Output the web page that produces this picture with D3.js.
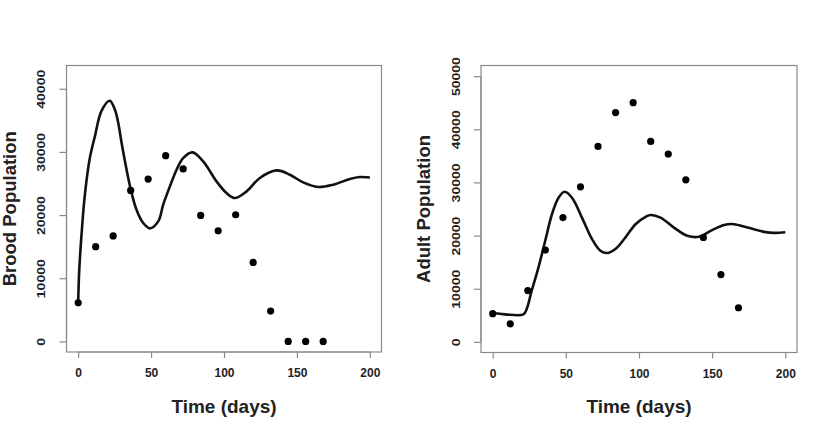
<!DOCTYPE html>
<html><head><meta charset="utf-8">
<script src="https://cdn.jsdelivr.net/npm/d3@7"></script>
<style>body{margin:0;background:#fff}svg{display:block}text{font-family:"Liberation Sans",Arial,sans-serif}</style>
</head><body><svg id="c" width="830" height="435"></svg>
<script>
// Observed data (days)
const obsDays = [0,12,24,36,48,60,72,84,96,108,120,132,144,156,168];
const broodObs = [6100,15000,16700,23900,25700,29400,27300,19950,17500,20050,12500,4800,0,0,0];
const adultObs = [5300,3400,9660,17270,23380,29180,36780,43140,45010,37720,35350,30480,19640,12660,6420];
// Model curves
const broodModelT = [0,0.7,2.3,4.6,8,11.5,16,21.7,25.2,27.5,29.8,33.2,36.1,40,44.6,49.2,54.9,58.3,62.9,67.5,72,78.4,85.7,94.9,101.7,107.5,115.5,124.6,136,145.2,154.3,164.6,174.9,186.3,193.2,200];
const broodModelV = [6080,11080,16890,23220,29030,32500,36500,38100,36680,34570,31400,27180,24010,20850,18740,17900,19000,21640,24540,27180,29030,29920,28500,25330,23490,22700,23750,25870,27070,26390,25170,24440,24810,25710,26020,25960];
const adultModelT = [0,8.4,21,23.3,26.7,31.3,35.9,40.5,45,49.1,54.2,61,67.9,73.6,78.2,83.9,90.7,97.6,104.5,107.9,114.7,123.9,133,141,149,158.2,165,174.2,185.6,192.4,200];
const adultModelV = [5420,5180,5180,6240,9670,14030,19020,24010,27120,28240,27120,23380,19340,17150,16720,17470,19640,22140,23510,23880,23380,21500,19950,19770,20890,22010,22140,21500,20700,20510,20640];
const xTicks = [0,50,100,150,200];
const broodTicks = [0,10000,20000,30000,40000];
const adultTicks = [0,10000,20000,30000,40000,50000];

const svg = d3.select("#c");

function panel(o){
  const g = svg.append("g");
  const x = d3.scaleLinear().domain([-8,208]).range([o.left,o.right]);
  const y = d3.scaleLinear().domain(o.ydom).range([o.bottom,o.top]);
  const grey = "#8a8a8a";
  g.append("rect").attr("x",o.left).attr("y",o.top).attr("width",o.right-o.left).attr("height",o.bottom-o.top)
    .attr("fill","none").attr("stroke",grey).attr("stroke-width",1.2);
  const xa = g.append("g").attr("transform",`translate(0,${o.bottom})`)
    .call(d3.axisBottom(x).tickValues(xTicks).tickSize(6).tickPadding(14).tickFormat(d3.format("d")));
  const ya = g.append("g").attr("transform",`translate(${o.left},0)`)
    .call(d3.axisLeft(y).tickValues(o.yticks).tickSize(7).tickFormat(d3.format("d")));
  [xa,ya].forEach(a=>{
    a.select(".domain").attr("stroke",grey).attr("stroke-width",1.2);
    a.selectAll(".tick line").attr("stroke",grey).attr("stroke-width",1.2);
    a.selectAll("text").attr("font-weight","bold").attr("fill","#222")
      .attr("font-family","Liberation Sans, Arial, sans-serif");
  });
  xa.selectAll("text").attr("font-size",12).attr("dy","0.45em");
  xa.select(".domain").attr("d",`M${x(0)},0H${x(200)}`);
  ya.select(".domain").attr("d",`M0,${y(o.yticks[0])}V${y(o.yticks[o.yticks.length-1])}`);
  ya.selectAll(".tick text").attr("x",null).attr("dy","0.35em").attr("font-size",10)
    .attr("text-anchor","middle")
    .attr("transform",`translate(${o.tickLabX-o.left},0) rotate(-90) scale(1.4,1)`);
  const line = d3.line().x((d,i)=>x(o.mt[i])).y(d=>y(d)).curve(d3.curveCatmullRom.alpha(0.5));
  g.append("path").datum(o.mv).attr("d",line).attr("fill","none").attr("stroke","#111").attr("stroke-width",2.6)
    .attr("stroke-linejoin","round");
  g.selectAll("circle").data(o.obs).join("circle").attr("cx",(d,i)=>x(obsDays[i])).attr("cy",d=>y(d))
    .attr("r",3.6).attr("fill","#000");
  g.append("text").attr("x",(x(0)+x(200))/2).attr("y",413).attr("text-anchor","middle")
    .attr("font-size",19).attr("font-weight","bold").attr("fill","#222").text("Time (days)");
  g.append("text").attr("transform",`translate(${o.labX},${(o.top+o.bottom)/2}) rotate(-90)`)
    .attr("text-anchor","middle").attr("dy","0.35em")
    .attr("font-size",18.5).attr("font-weight","bold").attr("fill","#222").text(o.label);
}

panel({left:66.5,right:381.5,top:65.5,bottom:352,ydom:[-1680,43680],yticks:broodTicks,
  mt:broodModelT,mv:broodModelV,obs:broodObs,label:"Brood Population",labX:10,tickLabX:41});
panel({left:481,right:797,top:65.5,bottom:352.5,ydom:[-2000,52000],yticks:adultTicks,
  mt:adultModelT,mv:adultModelV,obs:adultObs,label:"Adult Population",labX:424,tickLabX:456});
</script></body></html>
